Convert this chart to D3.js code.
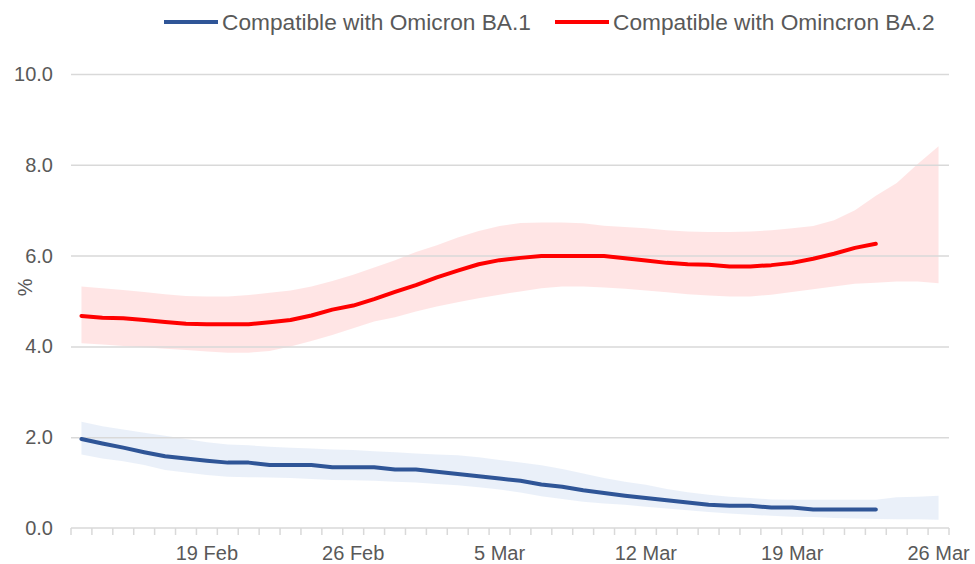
<!DOCTYPE html>
<html>
<head>
<meta charset="utf-8">
<script src="https://cdn.jsdelivr.net/npm/d3@7"></script>
<style>
  body { margin: 0; background: #fff; }
  svg { display: block; font-family: "Liberation Sans", Arial, sans-serif; }
</style>
</head>
<body>
<script>
// daily categories, 13 Feb to 26 Mar 2022
const days = d3.timeDay.range(new Date(2022, 1, 13), new Date(2022, 2, 27));
const tickLabels = ["19 Feb", "26 Feb", "5 Mar", "12 Mar", "19 Mar", "26 Mar"];
const yTicks = [0, 2, 4, 6, 8, 10];

const ba1 = [1.96, 1.86, 1.77, 1.67, 1.58, 1.53, 1.48, 1.44, 1.44, 1.39, 1.39, 1.39, 1.34, 1.34,
  1.34, 1.29, 1.29, 1.24, 1.19, 1.14, 1.09, 1.04, 0.96, 0.91, 0.83, 0.77, 0.71, 0.66, 0.61,
  0.56, 0.51, 0.49, 0.49, 0.45, 0.45, 0.41, 0.41, 0.41, 0.41];
const ba1Upper = [2.34, 2.24, 2.17, 2.10, 2.03, 1.96, 1.89, 1.84, 1.82, 1.79, 1.77, 1.75, 1.73,
  1.72, 1.69, 1.67, 1.64, 1.62, 1.60, 1.56, 1.50, 1.44, 1.38, 1.30, 1.20, 1.10, 1.02, 0.95,
  0.86, 0.79, 0.73, 0.69, 0.66, 0.63, 0.62, 0.62, 0.62, 0.62, 0.62, 0.68, 0.69, 0.71];
const ba1Lower = [1.62, 1.53, 1.47, 1.39, 1.28, 1.22, 1.17, 1.13, 1.12, 1.11, 1.10, 1.08, 1.06,
  1.05, 1.04, 1.02, 1.00, 0.97, 0.94, 0.90, 0.85, 0.78, 0.70, 0.64, 0.58, 0.54, 0.51, 0.47,
  0.43, 0.39, 0.35, 0.32, 0.29, 0.27, 0.25, 0.24, 0.22, 0.21, 0.20, 0.19, 0.19, 0.18];

const ba2 = [4.67, 4.63, 4.62, 4.58, 4.54, 4.50, 4.49, 4.49, 4.49, 4.53, 4.58, 4.68, 4.81, 4.90,
  5.04, 5.20, 5.35, 5.52, 5.67, 5.81, 5.90, 5.95, 5.99, 5.99, 5.99, 5.99, 5.94, 5.89, 5.84,
  5.81, 5.80, 5.76, 5.76, 5.79, 5.84, 5.93, 6.04, 6.17, 6.26];
const ba2Upper = [5.32, 5.28, 5.24, 5.20, 5.15, 5.11, 5.10, 5.10, 5.13, 5.18, 5.23, 5.32, 5.44,
  5.58, 5.74, 5.90, 6.08, 6.23, 6.40, 6.54, 6.65, 6.72, 6.73, 6.73, 6.71, 6.66, 6.63, 6.60,
  6.56, 6.53, 6.52, 6.52, 6.53, 6.56, 6.60, 6.65, 6.78, 7.00, 7.32, 7.60, 8.02, 8.41];
const ba2Lower = [4.07, 4.04, 4.01, 3.98, 3.95, 3.92, 3.89, 3.86, 3.86, 3.90, 4.00, 4.12, 4.25,
  4.40, 4.55, 4.64, 4.77, 4.88, 4.97, 5.06, 5.14, 5.21, 5.28, 5.32, 5.32, 5.30, 5.27, 5.23,
  5.19, 5.15, 5.12, 5.10, 5.10, 5.14, 5.20, 5.26, 5.32, 5.38, 5.40, 5.43, 5.43, 5.39];

const series = [
  {name: "Compatible with Omicron BA.1", mid: ba1, lo: ba1Lower, hi: ba1Upper,
   line: "#2f5597", band: "rgba(68,114,196,0.11)"},
  {name: "Compatible with Omincron BA.2", mid: ba2, lo: ba2Lower, hi: ba2Upper,
   line: "#ff0000", band: "rgba(255,0,0,0.1)"}
];

const width = 975, height = 564;
const margin = {top: 74, right: 26, bottom: 36, left: 71};
const fmtDay = d3.timeFormat("%-d %b");

const x = d3.scaleBand()
    .domain(days)
    .range([margin.left, width - margin.right])
    .padding(0);

const y = d3.scaleLinear()
    .domain([0, 10])
    .range([height - margin.bottom, margin.top]);

const cx = i => x(days[i]) + x.bandwidth() / 2;

const svg = d3.select("body").append("svg")
    .attr("width", width)
    .attr("height", height);

// bands first
const area = d3.area()
    .x((d, i) => cx(i))
    .y0(d => y(d[0]))
    .y1(d => y(d[1]));

svg.append("g")
  .selectAll("path")
  .data(series)
  .join("path")
    .attr("fill", s => s.band)
    .attr("d", s => area(d3.zip(s.lo, s.hi)));

// gridlines
svg.append("g")
    .attr("transform", `translate(${margin.left},0)`)
    .call(d3.axisLeft(y).tickValues(yTicks).tickFormat(d3.format(".1f"))
        .tickSize(-(width - margin.left - margin.right)).tickPadding(18))
    .call(g => g.select(".domain").remove())
    .call(g => g.selectAll(".tick line")
        .attr("stroke", "#d9d9d9").attr("stroke-width", 1.5)
        .attr("display", d => d === 0 ? "none" : null))
    .call(g => g.selectAll(".tick text")
        .attr("fill", "#595959").attr("font-size", 20));

// x axis: ticks on category boundaries, labels every 7 days
const xAxis = svg.append("g")
    .attr("transform", `translate(0,${y(0)})`);

xAxis.append("line")
    .attr("x1", margin.left).attr("x2", width - margin.right)
    .attr("stroke", "#d9d9d9").attr("stroke-width", 1.5);

xAxis.selectAll("line.tk")
  .data(days.concat([null]))
  .join("line")
    .attr("class", "tk")
    .attr("x1", (d, i) => d ? x(d) : x.range()[1])
    .attr("x2", (d, i) => d ? x(d) : x.range()[1])
    .attr("y1", 0).attr("y2", 7)
    .attr("stroke", "#d9d9d9").attr("stroke-width", 1.5);

xAxis.selectAll("text")
  .data(days.filter(d => tickLabels.includes(fmtDay(d))))
  .join("text")
    .attr("x", d => x(d) + x.bandwidth() / 2)
    .attr("y", 32)
    .attr("text-anchor", "middle")
    .attr("fill", "#595959")
    .attr("font-size", 20)
    .text(d => fmtDay(d));

// y title
svg.append("text")
    .attr("transform", `translate(32,${y(5.3)}) rotate(-90)`)
    .attr("text-anchor", "middle")
    .attr("fill", "#595959")
    .attr("font-size", 20)
    .text("%");

// lines
const line = d3.line()
    .x((d, i) => cx(i))
    .y(d => y(d));

svg.append("g")
  .selectAll("path")
  .data(series)
  .join("path")
    .attr("fill", "none")
    .attr("stroke", s => s.line)
    .attr("stroke-width", 4)
    .attr("stroke-linejoin", "round")
    .attr("stroke-linecap", "round")
    .attr("d", s => line(s.mid));

// legend
const legendX = [164, 555];
const legend = svg.append("g")
  .selectAll("g")
  .data(series)
  .join("g")
    .attr("transform", (s, i) => `translate(${legendX[i]},22)`);

legend.append("line")
    .attr("x1", 0).attr("x2", 54)
    .attr("stroke", s => s.line)
    .attr("stroke-width", 4);

legend.append("text")
    .attr("x", 58)
    .attr("dy", "0.35em")
    .attr("fill", "#595959")
    .attr("font-size", 22.7)
    .text(s => s.name);
</script>
</body>
</html>
